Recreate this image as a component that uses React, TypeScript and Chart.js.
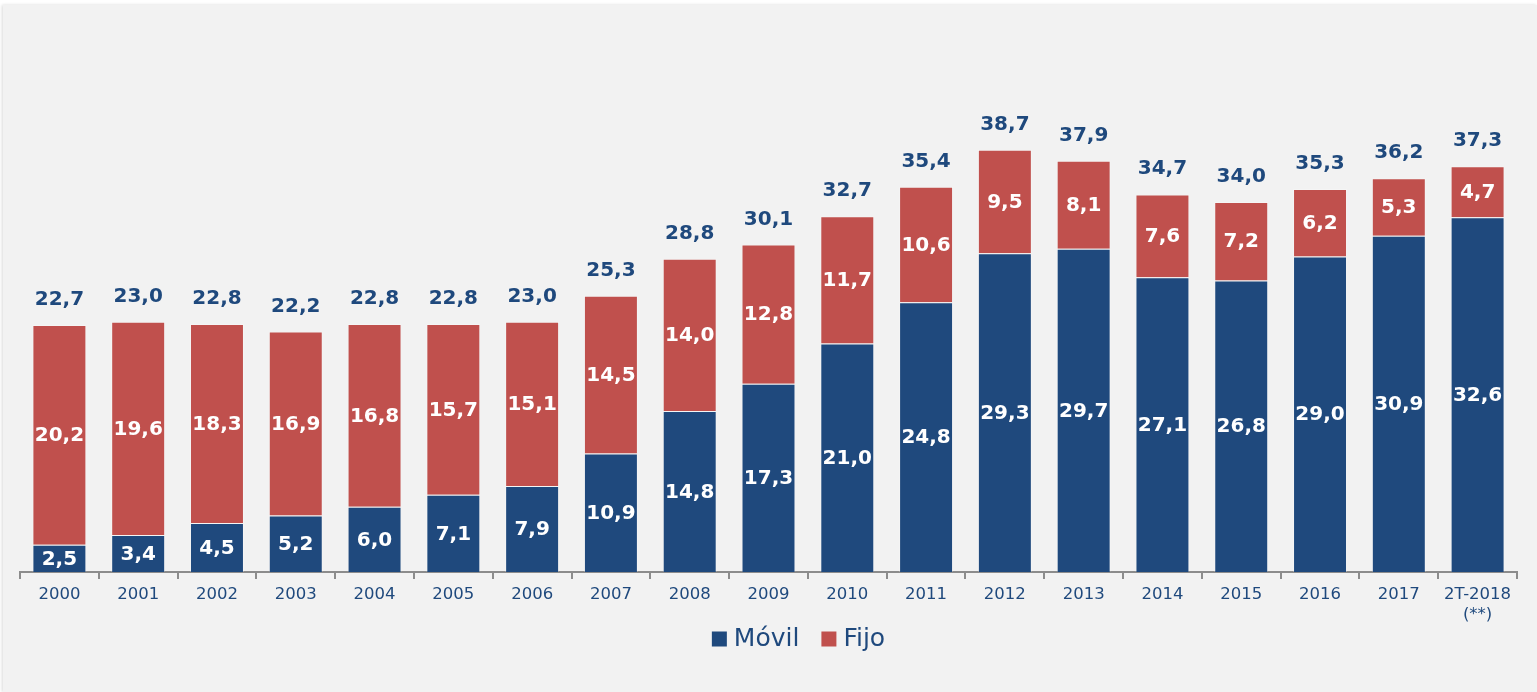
import React, { useEffect, useRef } from "react";
import { Chart, registerables } from "chart.js";

Chart.register(...registerables);

const categories: (string | string[])[] = [
  "2000", "2001", "2002", "2003", "2004", "2005", "2006", "2007", "2008", "2009",
  "2010", "2011", "2012", "2013", "2014", "2015", "2016", "2017", ["2T-2018", "(**)"],
];
const movil = [2.5, 3.4, 4.5, 5.2, 6.0, 7.1, 7.9, 10.9, 14.8, 17.3, 21.0, 24.8, 29.3, 29.7, 27.1, 26.8, 29.0, 30.9, 32.6];
const fijo = [20.2, 19.6, 18.3, 16.9, 16.8, 15.7, 15.1, 14.5, 14.0, 12.8, 11.7, 10.6, 9.5, 8.1, 7.6, 7.2, 6.2, 5.3, 4.7];
const totals = [22.7, 23.0, 22.8, 22.2, 22.8, 22.8, 23.0, 25.3, 28.8, 30.1, 32.7, 35.4, 38.7, 37.9, 34.7, 34.0, 35.3, 36.2, 37.3];

const BLUE = "#1F497D";
const RED = "#C0504D";
const FONT = "'DejaVu Sans', Verdana, sans-serif";

const fmt = (v: number) => v.toFixed(1).replace(".", ",");

const labelsPlugin = {
  id: "barLabels",
  afterDatasetsDraw(chart: any) {
    const ctx = chart.ctx;
    ctx.save();
    ctx.font = `bold 20px ${FONT}`;
    ctx.textAlign = "center";
    chart.data.datasets.forEach((ds: any, di: number) => {
      const meta = chart.getDatasetMeta(di);
      meta.data.forEach((el: any, i: number) => {
        const { x, y, base } = el.getProps(["x", "y", "base"], true);
        ctx.fillStyle = "#FFFFFF";
        ctx.textBaseline = "middle";
        ctx.fillText(fmt(ds.data[i]), x, (y + base) / 2 + 1);
      });
    });
    const topMeta = chart.getDatasetMeta(chart.data.datasets.length - 1);
    topMeta.data.forEach((el: any, i: number) => {
      const { x, y } = el.getProps(["x", "y"], true);
      ctx.fillStyle = BLUE;
      ctx.textBaseline = "alphabetic";
      ctx.fillText(fmt(totals[i]), x, y - 20);
    });
    ctx.restore();
  },
};

const legendPlugin = {
  id: "customLegend",
  afterDraw(chart: any) {
    const ctx = chart.ctx;
    const area = chart.chartArea;
    ctx.save();
    ctx.font = `25px ${FONT}`;
    ctx.textBaseline = "middle";
    ctx.textAlign = "left";
    const items = chart.data.datasets.map((d: any) => ({ label: d.label, color: d.backgroundColor }));
    const box = 15, gapText = 7, gapItem = 22;
    const widths = items.map((it: any) => box + gapText + ctx.measureText(it.label).width);
    const total = widths.reduce((a: number, b: number) => a + b, 0) + gapItem * (items.length - 1);
    let x = (area.left + area.right) / 2 + 30 - total / 2;
    const cy = 639;
    items.forEach((it: any, i: number) => {
      ctx.fillStyle = it.color;
      ctx.fillRect(x, cy - box / 2, box, box);
      ctx.fillStyle = BLUE;
      ctx.fillText(it.label, x + box + gapText, cy);
      x += widths[i] + gapItem;
    });
    ctx.restore();
  },
};

export default function App() {
  const ref = useRef<HTMLCanvasElement>(null);
  useEffect(() => {
    document.body.style.margin = "0";
    const chart = new Chart(ref.current!, {
      type: "bar",
      data: {
        labels: categories,
        datasets: [
          { label: "Móvil", data: movil, backgroundColor: BLUE, borderColor: "rgba(255,255,255,0.25)", borderWidth: 1, categoryPercentage: 1, barPercentage: 0.685 },
          { label: "Fijo", data: fijo, backgroundColor: RED, borderColor: "rgba(255,255,255,0.25)", borderWidth: 1, categoryPercentage: 1, barPercentage: 0.685 },
        ],
      },
      options: {
        animation: false,
        responsive: false,
        layout: { padding: { left: 20, right: 20, top: 28, bottom: 0 } },
        plugins: { legend: { display: false }, tooltip: { enabled: false } },
        scales: {
          x: {
            stacked: true,
            grid: { display: true, drawOnChartArea: false, offset: true, tickLength: 7, color: "#8C8C8C", lineWidth: 2 },
            border: { display: true, color: "#8C8C8C", width: 2 },
            ticks: { color: BLUE, font: { family: FONT, size: 16.5 }, padding: 6, maxRotation: 0, autoSkip: false },
            afterFit: (s: any) => { s.height = 120; },
          },
          y: { stacked: true, display: false, min: 0, max: 50 },
        },
      },
      plugins: [labelsPlugin, legendPlugin],
    });
    return () => chart.destroy();
  }, []);
  return (
    <div style={{ position: "absolute", left: 0, top: 0, width: 1537, height: 692, background: "#FFFFFF", overflow: "hidden" }}>
      <div style={{ position: "absolute", left: 3, top: 5, width: 1534, height: 687, background: "#F2F2F2", boxShadow: "-1px 0 3px rgba(0,0,0,0.15)" }} />
      <canvas ref={ref} width={1537} height={692} style={{ position: "absolute", left: 0, top: 0 }} />
    </div>
  );
}
